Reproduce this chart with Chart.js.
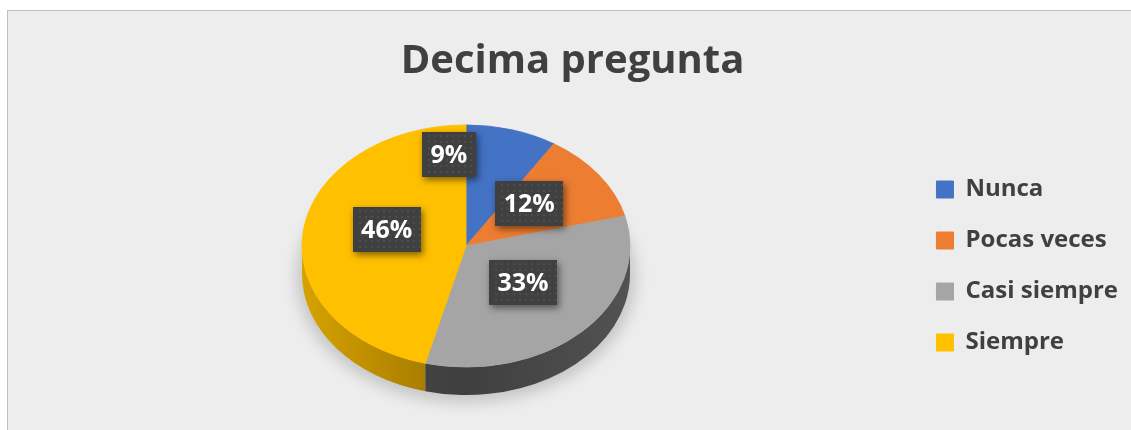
<!DOCTYPE html>
<html>
<head>
<meta charset="utf-8">
<script src="https://cdn.jsdelivr.net/npm/chart.js@4"></script>
<style>
  html, body { margin: 0; padding: 0; background: #ffffff; }
  #frame { position: absolute; left: 7px; top: 10px; width: 1124px; height: 420px; background: #ededed;
           border-left: 1px solid #bfbfbf; border-top: 1px solid #bfbfbf; box-sizing: border-box; }
  #wrap { position: absolute; left: 8px; top: 11px; width: 1123px; height: 419px; }
</style>
</head>
<body>
<div id="frame"></div>
<div id="wrap"><canvas id="pieChart"></canvas></div>
<script>
const titleText = 'Decima pregunta';
const categories = ['Nunca', 'Pocas veces', 'Casi siempre', 'Siempre'];
const percentValues = [9, 12, 33, 46];
const sliceColors = ['#4472C4', '#ED7D31', '#A5A5A5', '#FFC000'];

// fake 3D: squash the pie into an ellipse and draw the rim underneath
const pie3d = {
    id: 'pie3d',
    beforeDatasetsDraw(chart, args, opts) {
        const ctx = chart.ctx;
        const arcs = chart.getDatasetMeta(0).data;
        if (!arcs.length) return;
        const k = opts.tilt, d = opts.depth, cx = opts.x, cy = opts.y;
        const r = arcs[0].outerRadius, ry = r * k;

        // soft shadow under the pie
        ctx.save();
        ctx.filter = 'blur(7px)';
        ctx.fillStyle = 'rgba(0,0,0,0.16)';
        ctx.beginPath();
        ctx.ellipse(cx, cy + d + 3, r + 6, ry + 5, 0, 0, Math.PI * 2);
        ctx.fill();
        ctx.restore();

        // visible rim (front half only)
        ctx.save();
        arcs.forEach((arc, i) => {
            const a = Math.max(arc.startAngle, 0);
            const b = Math.min(arc.endAngle, Math.PI);
            if (b <= a) return;
            const sc = opts.sideColors[i];
            const g = ctx.createLinearGradient(cx - r, 0, cx + r, 0);
            g.addColorStop(0, sc[0]);
            g.addColorStop(0.5, sc[1]);
            g.addColorStop(1, sc[2]);
            ctx.beginPath();
            ctx.ellipse(cx, cy, r, ry, 0, a, b);
            ctx.ellipse(cx, cy + d, r, ry, 0, b, a, true);
            ctx.closePath();
            ctx.fillStyle = g;
            ctx.fill();
        });
        ctx.restore();

        // top face is drawn by chart.js under this transform
        ctx.save();
        ctx.translate(cx, cy);
        ctx.scale(1, k);
        ctx.translate(-arcs[0].x, -arcs[0].y);
    },
    afterDatasetsDraw(chart, args, opts) {
        const ctx = chart.ctx;
        ctx.restore();
        const arcs = chart.getDatasetMeta(0).data;
        const values = chart.data.datasets[0].data;
        const total = values.reduce((s, v) => s + v, 0);
        const k = opts.tilt, cx = opts.x, cy = opts.y;

        arcs.forEach((arc, i) => {
            const p = arc.tooltipPosition();
            const off = opts.labelOffsets[i];
            const x = cx + (p.x - arc.x) + off[0];
            const y = cy + (p.y - arc.y) * k + off[1];
            const text = Math.round(values[i] / total * 100) + '%';
            ctx.font = 'bold 25px "Open Sans"';
            const w = Math.round(ctx.measureText(text).width + 17), h = 45;
            const left = Math.round(x - w / 2), top = Math.round(y - h / 2);

            ctx.save();
            ctx.shadowColor = 'rgba(0,0,0,0.5)';
            ctx.shadowBlur = 7;
            ctx.shadowOffsetX = 2;
            ctx.shadowOffsetY = 3;
            ctx.fillStyle = '#404040';
            ctx.fillRect(left, top, w, h);
            ctx.restore();

            // dotted texture
            ctx.fillStyle = 'rgba(255,255,255,0.07)';
            for (let yy = top + 3; yy < top + h - 1; yy += 6) {
                for (let xx = left + 3 + ((yy - top) % 12 ? 3 : 0); xx < left + w - 1; xx += 6) {
                    ctx.fillRect(xx, yy, 2, 2);
                }
            }

            ctx.fillStyle = '#ffffff';
            ctx.textAlign = 'center';
            ctx.textBaseline = 'middle';
            ctx.fillText(text, x, y + 1);
        });
    }
};

const pieCtx = document.getElementById('pieChart');
const pieChart = new Chart(pieCtx, {
    type: 'pie',
    data: {
        labels: categories,
        datasets: [{
            data: percentValues,
            backgroundColor: sliceColors,
            borderColor: sliceColors,
            borderWidth: 1,
            clip: false
        }]
    },
    options: {
        responsive: true,
        maintainAspectRatio: false,
        animation: false,
        events: [],
        radius: 164,
        layout: { padding: { left: 9, right: 3 } },
        plugins: {
            title: {
                display: true,
                text: titleText,
                color: '#404040',
                font: { family: 'Open Sans', size: 40, weight: 'bold' },
                padding: { top: 27, bottom: 16 }
            },
            legend: {
                display: true,
                position: 'right',
                fullSize: false,
                labels: {
                    color: '#404040',
                    font: { family: 'Open Sans', size: 24, weight: 'bold' },
                    boxWidth: 17,
                    boxHeight: 17,
                    padding: 27
                }
            },
            tooltip: { enabled: false },
            pie3d: {
                x: 458,
                y: 235,
                tilt: 0.738,
                depth: 28,
                sideColors: [
                    ['#2f5597', '#2f5597', '#2f5597'],
                    ['#c55a11', '#c55a11', '#c55a11'],
                    ['#4a4a4a', '#3f3f3f', '#525252'],
                    ['#d7a200', '#9a7200', '#9a7200']
                ],
                labelOffsets: [[-40, -33], [-3, -7], [-1, -6], [2, -9]]
            }
        }
    },
    plugins: [pie3d]
});
</script>
</body>
</html>
